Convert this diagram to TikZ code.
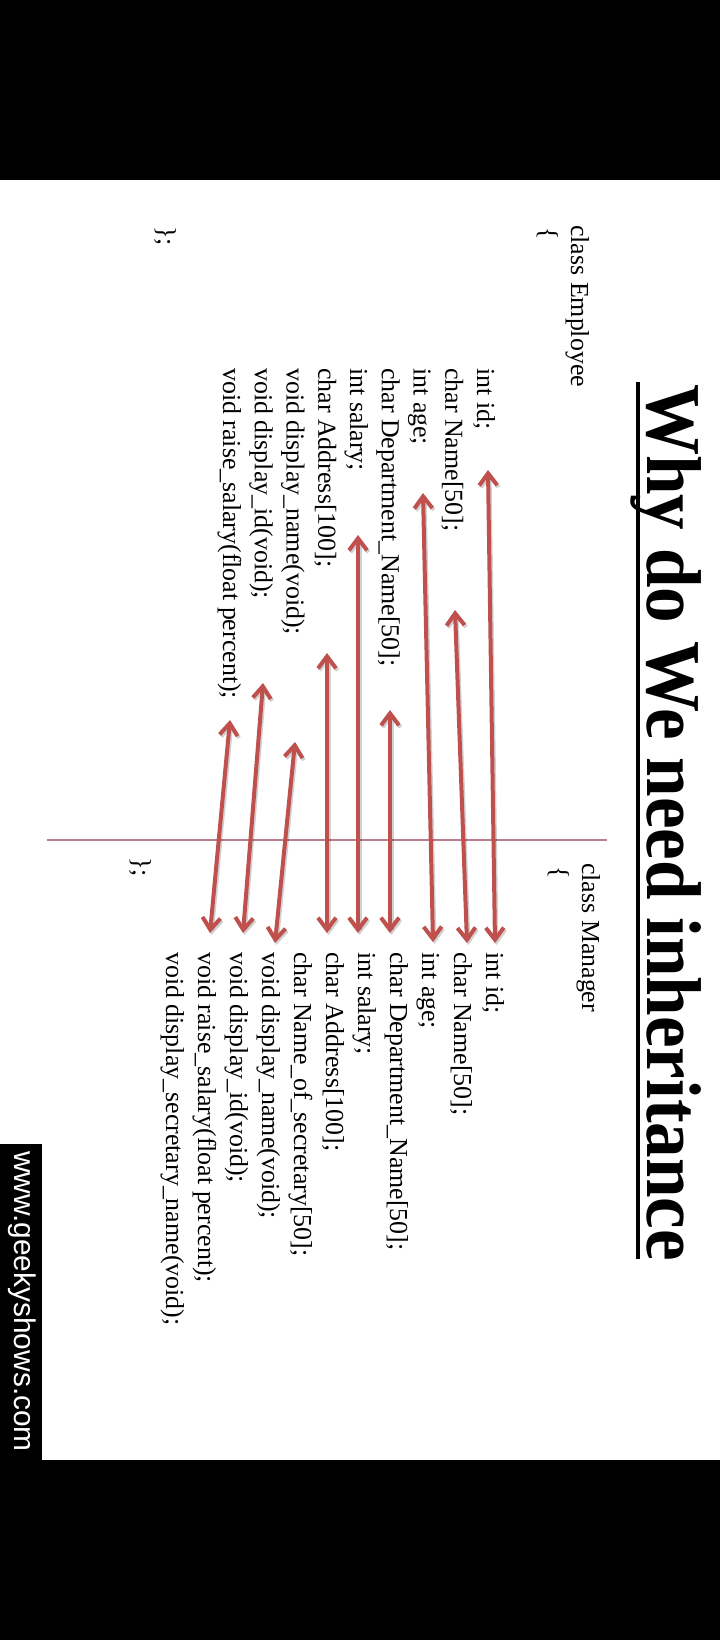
\documentclass[tikz,border=0pt]{standalone}
\usepackage{fontspec}
\setmainfont{Liberation Serif}
\newfontfamily\titlefont[FakeStretch=0.915]{Liberation Serif}
\newfontfamily\wmfont{Liberation Sans}
\usetikzlibrary{arrows.meta}
\definecolor{arrred}{RGB}{192,80,77}
\definecolor{sepline}{RGB}{185,125,140}
\begin{document}
\begin{tikzpicture}[x=1bp,y=-1bp,
  code/.style={rotate=-90,anchor=base west,inner sep=0pt,font=\fontsize{26}{30}\selectfont},
  ttl/.style={rotate=-90,anchor=base west,inner sep=0pt,font=\titlefont\bfseries\fontsize{78}{90}\selectfont},
  wm/.style={rotate=-90,anchor=base west,inner sep=0pt,text=white,font=\wmfont\fontsize{30}{34}\selectfont},
  arr/.style={draw=arrred,line width=4bp,{Straight Barb[length=12bp,width=18bp]}-{Straight Barb[length=12bp,width=18bp]}},
  shd/.style={draw=black,opacity=0.18,line width=4bp,{Straight Barb[length=12bp,width=18bp]}-{Straight Barb[length=12bp,width=18bp]}},
]
% page
\fill[white] (0,0) rectangle (720,1640);
\fill[black] (0,0) rectangle (720,180);
\fill[black] (0,1460) rectangle (720,1640);
\useasboundingbox (0,0) rectangle (720,1640);

% title
\node[ttl] (title) at (647,384) {Why do We need inheritance};
\draw[line width=4.5bp] (638,382) -- (638,1259);

% separator line
\coordinate (sepL) at (47,840);
\coordinate (sepR) at (607,840);
\draw[sepline,line width=1.5bp] (sepL) -- (sepR);

% class Employee
\node[code] (emp) at (571,225) {class Employee};
\node[code] (eob) at (540,227) {\{};
\node[code] (ecb) at (158,226) {\};};
\node[code] (e1) at (477,368) {int id;};
\node[code] (e2) at (445.25,368) {char Name[50];};
\node[code] (e3) at (413.5,368) {int age;};
\node[code] (e4) at (381.75,368) {char Department\_Name[50];};
\node[code] (e5) at (350,368) {int salary;};
\node[code] (e6) at (318.25,368) {char Address[100];};
\node[code] (e7) at (286.5,368) {void display\_name(void);};
\node[code] (e8) at (254.75,368) {void display\_id(void);};
\node[code] (e9) at (223,368) {void raise\_salary(float percent);};

% class Manager
\node[code] (mgr) at (582,863) {class Manager};
\node[code] (mob) at (551,866) {\{};
\node[code] (mcb) at (133,857) {\};};
\node[code] (m1) at (486,952) {int id;};
\node[code] (m2) at (454,952) {char Name[50];};
\node[code] (m3) at (422,952) {int age;};
\node[code] (m4) at (390,952) {char Department\_Name[50];};
\node[code] (m5) at (358,952) {int salary;};
\node[code] (m6) at (326,952) {char Address[100];};
\node[code] (m7) at (294,952) {char Name\_of\_secretary[50];};
\node[code] (m8) at (262,952) {void display\_name(void);};
\node[code] (m9) at (230,952) {void display\_id(void);};
\node[code] (m10) at (198,952) {void raise\_salary(float percent);};
\node[code] (m11) at (166,952) {void display\_secretary\_name(void);};

% arrow end points
\coordinate (a1t) at (488,470); \coordinate (a1b) at (495,943);
\coordinate (a2t) at (455,610); \coordinate (a2b) at (467,943);
\coordinate (a3t) at (423,493); \coordinate (a3b) at (433,942);
\coordinate (a4t) at (390,710); \coordinate (a4b) at (390,933);
\coordinate (a5t) at (358,535); \coordinate (a5b) at (358,933);
\coordinate (a6t) at (327,653); \coordinate (a6b) at (327,933);
\coordinate (a7t) at (295,742); \coordinate (a7b) at (275,943);
\coordinate (a8t) at (263,683); \coordinate (a8b) at (243,933);
\coordinate (a9t) at (230,720); \coordinate (a9b) at (210,933);

\foreach \i in {1,...,9}{
  \draw[shd,transform canvas={shift={(1.5bp,-2bp)}}] (a\i t) -- (a\i b);
}
\foreach \i in {1,...,9}{
  \draw[arr] (a\i t) -- (a\i b);
}

% watermark
\fill[black] (0,1144) rectangle (42,1460);
\node[wm] (web) at (14,1151) {www.geekyshows.com};
\end{tikzpicture}
\end{document}
